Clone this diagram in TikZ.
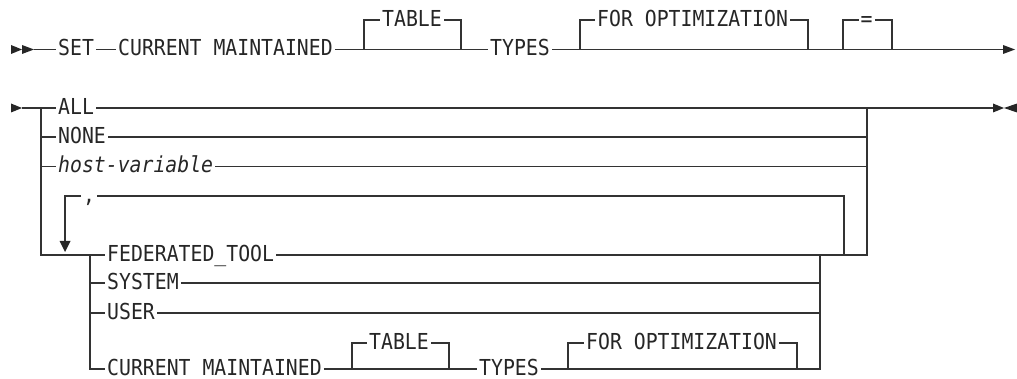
\documentclass[tikz,border=0pt]{standalone}
\usepackage{fontspec}
\newfontfamily\kwfont[FakeStretch=0.9]{DejaVu Sans Mono}
\begin{document}
\begin{tikzpicture}[x=1pt,y=-1pt,
  rail/.style={line width=1.15pt, draw=black!80},
  kw/.style={font=\kwfont\fontsize{22}{23}\selectfont, text=black!85, inner xsep=2pt, inner ysep=0pt, text height=15.5pt, text depth=2.5pt, anchor=west},
  var/.style={kw, font=\kwfont\itshape\fontsize{22}{23}\selectfont},
  tip/.style={fill=black!85}]
\useasboundingbox (0,0) rectangle (1017,379);
% ---------- line 1 ----------
\node[kw] (set) at (56,49.5) {SET};
\node[kw] (cm1) at (116,49.5) {CURRENT MAINTAINED};
\node[kw] (tab1) at (380,20) {TABLE};
\node[kw] (typ1) at (488,49.5) {TYPES};
\node[kw] (fo1) at (595,20) {FOR OPTIMIZATION};
\node[kw] (eq1) at (858.5,20) {=};
\coordinate (s1) at (34,49.5);
\coordinate (b1l) at (364,49.5);
\coordinate (b1r) at (461,49.5);
\coordinate (b2l) at (580,49.5);
\coordinate (b2r) at (808,49.5);
\coordinate (b3l) at (843,49.5);
\coordinate (b3r) at (892,49.5);
\coordinate (e1) at (1003,49.5);
\fill[tip] (11,45) -- (22,49.5) -- (11,54) -- cycle;
\fill[tip] (22,45) -- (34,49.5) -- (22,54) -- cycle;
\fill[tip] (1003,45) -- (1015,49.5) -- (1003,54) -- cycle;
\draw[rail] (s1) -- (set.west);
\draw[rail] (set.east) -- (cm1.west);
\draw[rail] (cm1.east) -- (typ1.west);
\draw[rail] (b1l) |- (tab1.west);
\draw[rail] (tab1.east) -| (b1r);
\draw[rail] (typ1.east) -- (e1);
\draw[rail] (b2l) |- (fo1.west);
\draw[rail] (fo1.east) -| (b2r);
\draw[rail] (b3l) |- (eq1.west);
\draw[rail] (eq1.east) -| (b3r);
% ---------- line 2 ----------
\node[kw] (all) at (56,108) {ALL};
\node[kw] (none) at (56,137) {NONE};
\node[var] (hv) at (56,166.5) {host-variable};
\node[kw] (com) at (81,196) {,};
\node[kw] (fed) at (105,255) {FEDERATED\_TOOL};
\node[kw] (sys) at (105,283) {SYSTEM};
\node[kw] (usr) at (105,313) {USER};
\node[kw] (cm2) at (105,369) {CURRENT MAINTAINED};
\node[kw] (tab2) at (367,343) {TABLE};
\node[kw] (typ2) at (477,369) {TYPES};
\node[kw] (fo2) at (584,343) {FOR OPTIMIZATION};
\coordinate (s2) at (22,108);
\coordinate (L) at (41,108);
\coordinate (Lb) at (41,255);
\coordinate (R) at (867,108);
\coordinate (Rb) at (867,255);
\coordinate (e2) at (993,108);
\coordinate (I) at (90,255);
\coordinate (Ib) at (90,369);
\coordinate (J) at (820,255);
\coordinate (lr) at (844,255);
\coordinate (lla) at (65,241);
\coordinate (c1l) at (352,369);
\coordinate (c1r) at (449,369);
\coordinate (c2l) at (568,369);
\coordinate (c2r) at (797,369);
\fill[tip] (11,103.5) -- (22,108) -- (11,112.5) -- cycle;
\fill[tip] (993,103.5) -- (1004,108) -- (993,112.5) -- cycle;
\fill[tip] (1017,103.5) -- (1004,108) -- (1017,112.5) -- cycle;
\draw[rail] (s2) -- (all.west);
\draw[rail] (all.east) -- (R) -- (e2);
\draw[rail] (L) |- (none.west);
\draw[rail] (none.east) -| (R);
\draw[rail] (L) |- (hv.west);
\draw[rail] (hv.east) -| (R);
\draw[rail] (L) -- (Lb) -- (fed.west);
\draw[rail] (fed.east) -- (Rb) -- (R);
\draw[rail] (I) |- (sys.west);
\draw[rail] (sys.east) -| (J);
\draw[rail] (I) |- (usr.west);
\draw[rail] (usr.east) -| (J);
\draw[rail] (I) -- (Ib) -- (cm2.west);
\draw[rail] (cm2.east) -- (typ2.west);
\draw[rail] (c1l) |- (tab2.west);
\draw[rail] (tab2.east) -| (c1r);
\draw[rail] (typ2.east) -| (J);
\draw[rail] (c2l) |- (fo2.west);
\draw[rail] (fo2.east) -| (c2r);
\draw[rail] (lr) |- (com.east);
\draw[rail] (com.west) -| (lla);
\fill[tip] (59.5,241) -- (70.5,241) -- (65,252) -- cycle;
\end{tikzpicture}
\end{document}
